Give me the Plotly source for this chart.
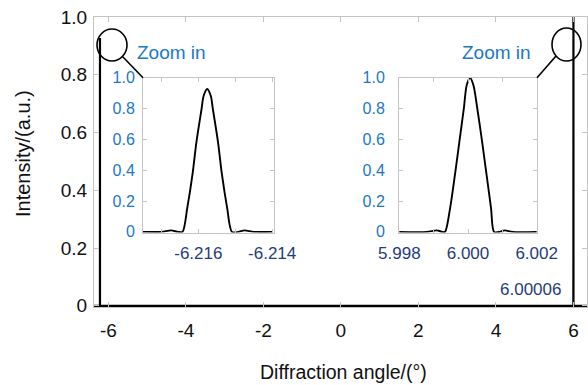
import plotly.graph_objects as go

# Diffraction orders near -6.216 deg and +6.000 deg (intensity normalised)
left_angle = [-6.2175, -6.2170, -6.21674, -6.21655, -6.21643, -6.21630, -6.21616,
              -6.21605, -6.21591, -6.21586, -6.21576, -6.21566, -6.21561, -6.21547,
              -6.21536, -6.21522, -6.21509, -6.21492, -6.21475, -6.2145, -6.2140]
left_int = [0.0, 0.0, 0.010, 0.0, 0.0, 0.156, 0.371,
            0.587, 0.802, 0.880, 0.927, 0.880, 0.802, 0.587,
            0.371, 0.156, 0.0, 0.0, 0.010, 0.0, 0.0]

right_angle = [5.9980, 5.9988, 5.99909, 5.99925, 5.99933, 5.99948, 5.99962,
               5.99975, 5.99988, 5.99996, 6.00006, 6.00016, 6.00027, 6.00041,
               6.00054, 6.00067, 6.00076, 6.00092, 6.00107, 6.0013, 6.0020]
right_int = [0.0, 0.0, 0.010, 0.0, 0.0, 0.156, 0.371,
             0.587, 0.802, 0.950, 1.000, 0.950, 0.802, 0.587,
             0.371, 0.156, 0.0, 0.0, 0.010, 0.0, 0.0]

main_x_ticks = [-6, -4, -2, 0, 2, 4, 6]
left_x_ticks = [-6.216, -6.214]
right_x_ticks = [5.998, 6.000, 6.002]
y_ticks = [0, 0.2, 0.4, 0.6, 0.8, 1.0]
y_tick_text = ["0", "0.2", "0.4", "0.6", "0.8", "1.0"]

FONT = "Liberation Sans, Arial, sans-serif"
BLUE = "#1b78c8"
NAVY = "#1f3c7c"
FRAME = "#c4c4c4"
INK = "#111111"

W, H = 588, 385
ML, MR, MT, MB = 94, 1, 17, 78
PW, PH = W - ML - MR, H - MT - MB


def px_x(p):
    return (p - ML) / PW


def px_y(p):
    return (H - MB - p) / PH


def hyphen_labels(vals, fmt):
    # plain hyphen-minus rather than the typographic minus
    return [format(v, fmt) for v in vals]


# inset domains (paper fractions)
inset_l_x = [px_x(143), px_x(274)]
inset_r_x = [px_x(399), px_x(537)]
inset_y = [px_y(232.5), px_y(77.7)]

main_x = [-6.4] + left_angle + right_angle + [6.4]
main_y = [0.0] + left_int + right_int + [0.0]

fig = go.Figure()
fig.add_trace(go.Scatter(x=main_x, y=main_y, mode="lines",
                         line=dict(color="black", width=2.2),
                         xaxis="x", yaxis="y", hoverinfo="skip"))
fig.add_trace(go.Scatter(x=left_angle, y=left_int, mode="lines",
                         line=dict(color="black", width=1.9, shape="spline", smoothing=0.8),
                         xaxis="x2", yaxis="y2", hoverinfo="skip"))
fig.add_trace(go.Scatter(x=right_angle, y=right_int, mode="lines",
                         line=dict(color="black", width=1.9, shape="spline", smoothing=0.8),
                         xaxis="x3", yaxis="y3", hoverinfo="skip"))

frame_common = dict(showline=True, linecolor=FRAME, linewidth=1, mirror="ticks",
                    ticks="inside", tickcolor=FRAME, showgrid=False, zeroline=False,
                    automargin=False)

inset_y_axis = dict(range=[-0.004, 1.0], tickvals=y_ticks, ticktext=y_tick_text,
                    tickfont=dict(family=FONT, size=16, color=BLUE),
                    ticklen=4, domain=inset_y, **frame_common)

fig.update_layout(
    width=W, height=H,
    margin=dict(l=ML, r=MR, t=MT, b=MB, pad=0, autoexpand=False),
    paper_bgcolor="white", plot_bgcolor="rgba(0,0,0,0)",
    showlegend=False,
    font=dict(family=FONT, color=INK),
    xaxis=dict(range=[-6.37, 6.35], tickvals=main_x_ticks,
               ticktext=hyphen_labels(main_x_ticks, "d"),
               tickfont=dict(size=19, color=INK), ticklen=5, ticklabelstandoff=6,
               **frame_common),
    yaxis=dict(range=[-0.004, 1.0], tickvals=y_ticks, ticktext=y_tick_text,
               tickfont=dict(size=19, color=INK), ticklen=5, ticklabelstandoff=2,
               **frame_common),
    xaxis2=dict(range=[-6.2175, -6.21395], domain=inset_l_x, anchor="y2",
                tickvals=left_x_ticks, ticktext=hyphen_labels(left_x_ticks, ".3f"), ticklen=4,
                ticklabelstandoff=5,
                minor=dict(dtick=0.001, tick0=-6.216, ticks="inside", ticklen=4, tickcolor=FRAME),
                tickfont=dict(family=FONT, size=17, color=NAVY), **frame_common),
    yaxis2=dict(anchor="x2", ticklabelstandoff=4, **inset_y_axis),
    xaxis3=dict(range=[5.99799, 6.00201], domain=inset_r_x, anchor="y3",
                tickvals=right_x_ticks, ticktext=hyphen_labels(right_x_ticks, ".3f"), ticklen=4,
                ticklabelstandoff=5,
                minor=dict(dtick=0.001, tick0=6.0, ticks="inside", ticklen=4, tickcolor=FRAME),
                tickfont=dict(family=FONT, size=17, color=NAVY), **frame_common),
    yaxis3=dict(anchor="x3", ticklabelstandoff=10, **inset_y_axis),
)

# axis titles
fig.add_annotation(text="Diffraction angle/(°)", xref="paper", yref="paper",
                   x=px_x(343), y=px_y(372), xanchor="center", yanchor="middle",
                   showarrow=False, font=dict(family=FONT, size=19.5, color=INK))
fig.add_annotation(text="Intensity/(a.u.)", xref="paper", yref="paper",
                   x=px_x(23), y=px_y(154), xanchor="center", yanchor="middle",
                   textangle=-90, showarrow=False,
                   font=dict(family=FONT, size=20, color=INK))

# magnifier circles and leader lines to the insets
circle_style = dict(color="black", width=1.6)
fig.add_shape(type="circle", xref="paper", yref="paper",
              x0=px_x(97), x1=px_x(127), y0=px_y(61), y1=px_y(29), line=circle_style)
fig.add_shape(type="circle", xref="paper", yref="paper",
              x0=px_x(552), x1=px_x(581), y0=px_y(61), y1=px_y(28), line=circle_style)
fig.add_shape(type="line", xref="paper", yref="paper",
              x0=px_x(122), y0=px_y(56), x1=inset_l_x[0], y1=inset_y[1], line=circle_style)
fig.add_shape(type="line", xref="paper", yref="paper",
              x0=px_x(556), y0=px_y(56), x1=inset_r_x[1], y1=inset_y[1], line=circle_style)

for cx in (171, 496):
    fig.add_annotation(text="Zoom in", xref="paper", yref="paper",
                       x=px_x(cx), y=px_y(52), xanchor="center", yanchor="middle",
                       showarrow=False, font=dict(family=FONT, size=19, color=BLUE))

peak_idx = right_int.index(max(right_int))
fig.add_annotation(text=f"{right_angle[peak_idx]:.5f}", xref="paper", yref="paper",
                   x=px_x(530), y=px_y(289), xanchor="center", yanchor="middle",
                   showarrow=False, font=dict(family=FONT, size=17, color=NAVY))

fig.write_html("out.html")
